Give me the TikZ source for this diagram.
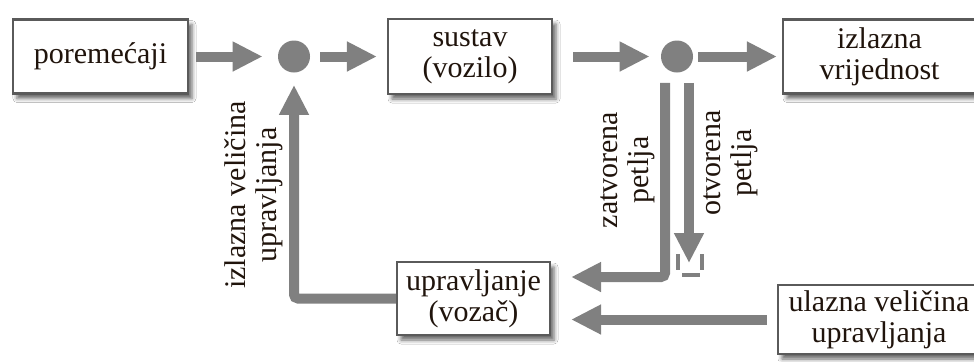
\documentclass[tikz,border=0pt]{standalone}
\usepackage{fontspec}
\setmainfont{Liberation Serif}
\usetikzlibrary{arrows.meta,shadows.blur,positioning}
\definecolor{flowgray}{HTML}{808080}
\definecolor{boxline}{HTML}{5A5A5A}
\definecolor{inktext}{HTML}{20140C}
\tikzset{
  block/.style={draw=boxline, line width=1.1pt, fill=white, align=center, text=inktext,
    inner sep=0pt, font=\rmfamily\fontsize{15}{15.5}\selectfont,
    blur shadow={shadow xshift=2pt, shadow yshift=-2.5pt, shadow blur radius=2pt, shadow opacity=60}},
  junction/.style={circle, fill=flowgray, minimum size=16pt, inner sep=0pt},
  flow/.style={draw=flowgray, line width=5pt, -{Triangle[length=15pt,width=14pt]}},
  contact/.style={draw=flowgray, line width=1.8pt},
  vlabel/.style={rotate=90, align=center, text=inktext, inner sep=0pt,
    font=\rmfamily\fontsize{15}{15.5}\selectfont},
}
\begin{document}
\begin{tikzpicture}[x=0.5pt, y=-0.5pt]
    \clip (0,0) rectangle (974,361);
    \fill[white] (0,0) rectangle (974,361);

    % Nodes
    \node[block, minimum width=87.5pt, minimum height=37pt] (disturb) at (100.5,56.5) {poremećaji};
    \node[junction] (sum-in) at (294,56.5) {};
    \node[block, minimum width=82pt, minimum height=37.5pt] (plant) at (470,56.5) {sustav\\(vozilo)};
    \node[junction] (sum-out) at (677,56.5) {};
    \node[block, minimum width=96.5pt, minimum height=37pt] (output) at (879.5,56.5) {izlazna\\vrijednost};
    \node[block, minimum width=76.5pt, minimum height=36.5pt] (driver) at (473.5,298.5) {upravljanje\\(vozač)};
    \node[block, minimum width=101pt, minimum height=34.5pt] (input) at (879,319.5) {ulazna veličina\\upravljanja};
    \coordinate (open-end) at (689,263);

    % Labels
    \node[vlabel] (fb-label) at (254,195) {izlazna veličina\\upravljanja};
    \node[vlabel] (closed-label) at (628,170) {zatvorena\\petlja};
    \node[vlabel] (open-label) at (731,163) {otvorena\\petlja};

    % Lines
    \draw[flow, shorten <=3.5pt, shorten >=7.5pt] (disturb) -- (sum-in);
    \draw[flow, shorten <=5pt, shorten >=5pt] (sum-in) -- (plant);
    \draw[flow, shorten <=10pt, shorten >=5.5pt] (plant) -- (sum-out);
    \draw[flow, shorten <=2.5pt, shorten >=2.5pt] (sum-out) -- (output);
    \draw[flow, shorten >=6pt, rounded corners=2pt] (driver.west) -| (sum-in.south);
    \draw[flow, shorten <=5pt, shorten >=10pt, rounded corners=2pt]
      ([xshift=-6pt]sum-out.south) |- ([yshift=10.75pt]driver.east);
    \draw[flow, shorten <=5pt] ([xshift=6pt]sum-out.south) -- (open-end);
    \draw[flow, shorten <=5pt, shorten >=10pt] (input.west) -- (input.west -| driver.east);

    % open contact
    \draw[contact] ([xshift=-5.5pt, yshift=4.5pt]open-end) -- ++(0,16);
    \draw[contact] ([xshift=6.5pt, yshift=4.5pt]open-end) -- ++(0,16);
    \draw[contact] ([xshift=-3.5pt, yshift=-6pt]open-end) -- ++(18,0);

  \end{tikzpicture}
\end{document}
